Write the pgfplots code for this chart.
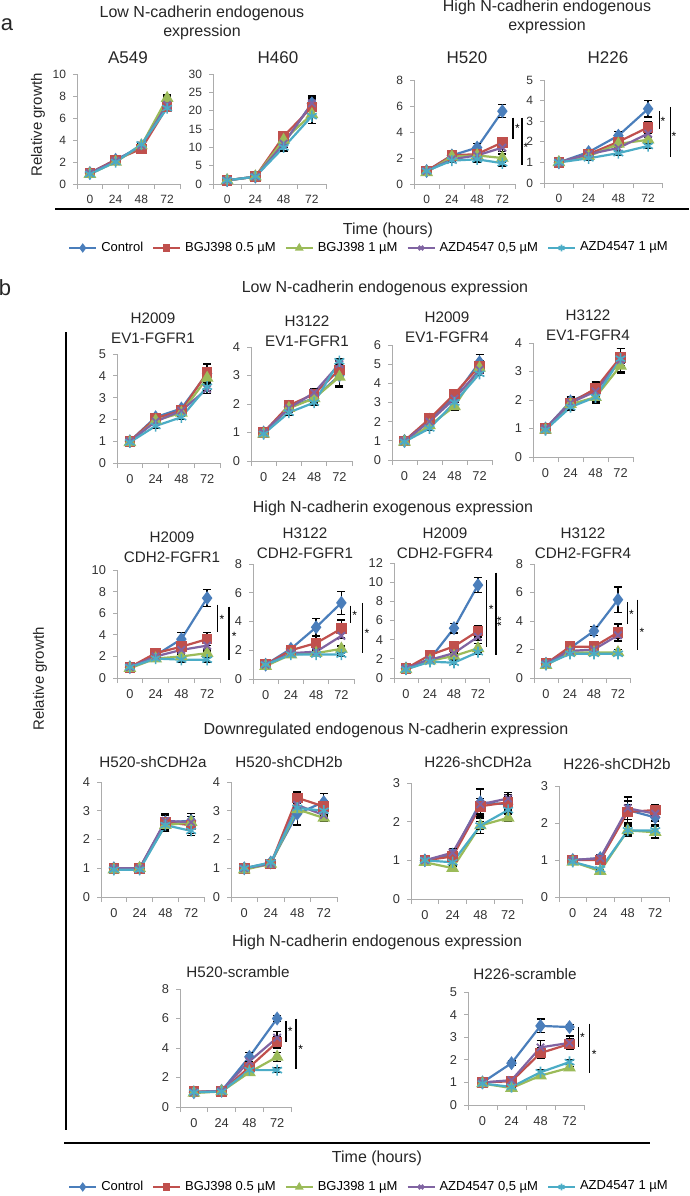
\documentclass[border=0pt]{standalone}
\usepackage{fontspec}
\setmainfont{Liberation Sans}
\usepackage{pgfplots}
\pgfplotsset{compat=1.18}

\definecolor{cC}{HTML}{4A7EBB}
\definecolor{cR}{HTML}{C0504D}
\definecolor{cG}{HTML}{9BBB59}
\definecolor{cP}{HTML}{8064A2}
\definecolor{cA}{HTML}{4BACC6}

\newcommand\tA{\fontsize{8}{9.5}\selectfont}
\newcommand\tC{\fontsize{8.5}{10}\selectfont}
\newcommand\tB{\fontsize{7.6}{10}\selectfont}
\newcommand\tR{\fontsize{7.5}{9}\selectfont}

\pgfplotsset{
  sC/.style={cC, line width=1.1pt, mark=diamond*, mark size=2.6pt, mark options={solid}},
  sR/.style={cR, line width=1.1pt, mark=square*, mark size=2.1pt, mark options={solid}},
  sG/.style={cG, line width=1.1pt, mark=triangle*, mark size=2.6pt, mark options={solid}},
  sP/.style={cP, line width=1.1pt, mark=x, mark size=2.6pt, mark options={solid,line width=0.9pt}},
  sA/.style={cA, line width=1.1pt, mark=asterisk, mark size=2.8pt, mark options={solid,line width=0.8pt}},
  eb/.style={/pgfplots/error bars/y dir=both, /pgfplots/error bars/y explicit,
    /pgfplots/error bars/error bar style={black,line width=0.7pt},
    /pgfplots/error bars/error mark options={rotate=90,mark size=2pt,black,line width=0.7pt}},
  cell/.style={scale only axis, anchor=south west, clip=false,
    axis x line*=bottom, axis y line*=left,
    axis line style={-, draw=gray!65, line width=0.5pt},
    xmin=-0.5, xmax=3.5, ymin=0,
    xtick={0,1,2,3}, xticklabels={0,24,48,72},
    minor xtick={-0.5,0.5,1.5,2.5,3.5},
    tick align=outside, major tick length=2pt, minor tick length=2.5pt,
    every tick/.style={draw=gray!65, line width=0.5pt},
    major x tick style={draw=none},
    tick label style={font=\fontsize{6}{7}\selectfont, text=black!80},
    /pgf/number format/assume math mode=true},
  cellb/.style={cell, tick label style={font=\fontsize{6.4}{7}\selectfont}},
  leg/.style={hide axis, scale only axis, width=5pt, height=5pt, anchor=center,
    xmin=0, xmax=1, ymin=0, ymax=1, legend columns=5,
    legend style={at={(0.5,0.5)}, anchor=center, draw=none, fill=none,
      font=\fontsize{6.5}{7.5}\selectfont,
      /tikz/every even column/.append style={column sep=2.5pt}},
    legend image code/.code={\draw[mark repeat=2,mark phase=2,##1,line width=1pt,every mark/.append style={scale=0.6}] plot coordinates {(0pt,0pt) (6.75pt,0pt) (13.5pt,0pt)};}},
}

% five series of one panel: Control, BGJ398 0.5, BGJ398 1, AZD4547 0.5, AZD4547 1
\newcommand\five[5]{%
  \addplot[sC,eb] coordinates {#1};
  \addplot[sR,eb] coordinates {#2};
  \addplot[sG,eb] coordinates {#3};
  \addplot[sP,eb] coordinates {#4};
  \addplot[sA,eb] coordinates {#5};}
% significance bar and star
\newcommand\sig[6]{\draw[black,line width=0.6pt] (axis cs:#1,#2) -- (axis cs:#1,#3);
  \node[inner sep=0pt,font=\fontsize{6}{6}\selectfont] at (axis cs:#4,#5) {#6};}

\begin{document}
\begin{tikzpicture}
\path[use as bounding box] (0,0) rectangle (345pt,-598pt);

% ---------------- panel a ----------------
\begin{axis}[cell, at={(38.5pt,-92pt)}, width=51.5pt, height=55pt, ymax=10, ytick distance=2]
\five{(0,1)+-(0,.1) (1,2.2)+-(0,.15) (2,3.4)+-(0,.2) (3,7.6)+-(0,.3)}
{(0,1)+-(0,.1) (1,2.2)+-(0,.15) (2,3.2)+-(0,.2) (3,7.0)+-(0,.3)}
{(0,0.9)+-(0,.1) (1,2.0)+-(0,.1) (2,3.5)+-(0,.2) (3,7.8)+-(0,.3)}
{(0,1)+-(0,.1) (1,2.1)+-(0,.1) (2,3.5)+-(0,.2) (3,7.2)+-(0,.3)}
{(0,0.9)+-(0,.1) (1,2.0)+-(0,.1) (2,3.6)+-(0,.2) (3,6.9)+-(0,.3)}
\end{axis}

\begin{axis}[cell, at={(106.5pt,-92pt)}, width=56.5pt, height=55pt, ymax=30, ytick distance=5]
\five{(0,1)+-(0,.3) (1,2)+-(0,.3) (2,11)+-(0,1) (3,22)+-(0,1.5)}
{(0,1)+-(0,.3) (1,2)+-(0,.3) (2,13)+-(0,1) (3,21)+-(0,2)}
{(0,1)+-(0,.3) (1,2)+-(0,.3) (2,12)+-(0,1) (3,19)+-(0,2.5)}
{(0,1)+-(0,.3) (1,2)+-(0,.3) (2,11)+-(0,1) (3,22)+-(0,2)}
{(0,1)+-(0,.3) (1,2)+-(0,.3) (2,10)+-(0,1) (3,18.5)+-(0,2)}
\end{axis}

\begin{axis}[cell, at={(207pt,-92pt)}, width=50.5pt, height=52pt, ymax=8, ytick distance=2]
\five{(0,1)+-(0,.1) (1,2.2)+-(0,.15) (2,2.8)+-(0,.3) (3,5.6)+-(0,.5)}
{(0,1)+-(0,.1) (1,2.2)+-(0,.1) (2,2.3)+-(0,.2) (3,3.2)+-(0,.4)}
{(0,0.9)+-(0,.1) (1,2.1)+-(0,.1) (2,2.2)+-(0,.2) (3,2.0)+-(0,.3)}
{(0,1)+-(0,.1) (1,1.9)+-(0,.1) (2,2.2)+-(0,.2) (3,2.8)+-(0,.3)}
{(0,1)+-(0,.1) (1,1.8)+-(0,.1) (2,1.9)+-(0,.2) (3,1.6)+-(0,.2)}
\sig{3.42}{5.1}{3.5}{3.6}{4.3}{*}
\sig{3.78}{5.1}{1.5}{3.93}{2.8}{*}
\end{axis}

\begin{axis}[cell, at={(272pt,-91.5pt)}, width=59.5pt, height=51.5pt, ymax=5, ytick distance=1]
\five{(0,1)+-(0,.05) (1,1.5)+-(0,.1) (2,2.3)+-(0,.2) (3,3.6)+-(0,.4)}
{(0,1)+-(0,.05) (1,1.4)+-(0,.1) (2,2.0)+-(0,.2) (3,2.7)+-(0,.3)}
{(0,1)+-(0,.05) (1,1.3)+-(0,.1) (2,1.9)+-(0,.15) (3,2.1)+-(0,.15)}
{(0,1)+-(0,.05) (1,1.4)+-(0,.1) (2,1.7)+-(0,.15) (3,2.4)+-(0,.2)}
{(0,1)+-(0,.05) (1,1.2)+-(0,.1) (2,1.45)+-(0,.1) (3,1.8)+-(0,.1)}
\sig{3.37}{3.5}{2.6}{3.5}{3.0}{*}
\sig{3.74}{3.7}{1.26}{3.87}{2.25}{*}
\end{axis}

\begin{axis}[leg, at={(185pt,-124pt)}]
\addlegendimage{sC}\addlegendentry{Control}
\addlegendimage{sR}\addlegendentry{BGJ398 0.5 µM}
\addlegendimage{sG}\addlegendentry{BGJ398 1 µM}
\addlegendimage{sP}\addlegendentry{AZD4547 0,5 µM}
\addlegendimage{sA}\addlegendentry{AZD4547 1 µM}
\end{axis}

% ---------------- panel b, row 1 ----------------
\begin{axis}[cellb, at={(58.5pt,-231.5pt)}, width=51.5pt, height=54.5pt, ymax=5, ytick distance=1]
\five{(0,1)+-(0,.05) (1,2.1)+-(0,.1) (2,2.5)+-(0,.15) (3,4.1)+-(0,.45)}
{(0,1)+-(0,.05) (1,2.05)+-(0,.1) (2,2.4)+-(0,.15) (3,4.15)+-(0,.4)}
{(0,0.95)+-(0,.05) (1,1.95)+-(0,.1) (2,2.3)+-(0,.15) (3,3.9)+-(0,.3)}
{(0,1)+-(0,.05) (1,1.9)+-(0,.1) (2,2.4)+-(0,.15) (3,3.4)+-(0,.2)}
{(0,0.95)+-(0,.05) (1,1.7)+-(0,.1) (2,2.1)+-(0,.1) (3,3.5)+-(0,.2)}
\end{axis}

\begin{axis}[cellb, at={(125.5pt,-230.5pt)}, width=50.5pt, height=57pt, ymax=4, ytick distance=1]
\five{(0,1)+-(0,.05) (1,1.9)+-(0,.2) (2,2.2)+-(0,.2) (3,3.0)+-(0,.4)}
{(0,1)+-(0,.05) (1,1.95)+-(0,.1) (2,2.35)+-(0,.2) (3,3.2)+-(0,.3)}
{(0,0.95)+-(0,.05) (1,1.85)+-(0,.1) (2,2.2)+-(0,.15) (3,2.95)+-(0,.3)}
{(0,1)+-(0,.05) (1,1.85)+-(0,.1) (2,2.4)+-(0,.15) (3,3.4)+-(0,.15)}
{(0,0.95)+-(0,.05) (1,1.7)+-(0,.1) (2,2.05)+-(0,.1) (3,3.5)+-(0,.1)}
\end{axis}

\begin{axis}[cellb, at={(196pt,-230pt)}, width=50pt, height=57.5pt, ymax=6, ytick distance=1]
\five{(0,1)+-(0,.05) (1,2.1)+-(0,.1) (2,3.3)+-(0,.3) (3,5.1)+-(0,.4)}
{(0,1)+-(0,.05) (1,2.15)+-(0,.1) (2,3.45)+-(0,.2) (3,4.9)+-(0,.3)}
{(0,0.95)+-(0,.05) (1,1.8)+-(0,.1) (2,2.8)+-(0,.2) (3,4.8)+-(0,.3)}
{(0,1)+-(0,.05) (1,2.0)+-(0,.1) (2,3.2)+-(0,.2) (3,4.7)+-(0,.2)}
{(0,0.95)+-(0,.05) (1,1.65)+-(0,.1) (2,3.0)+-(0,.1) (3,4.5)+-(0,.1)}
\end{axis}

\begin{axis}[cellb, at={(266.5pt,-228.5pt)}, width=50pt, height=57pt, ymax=4, ytick distance=1]
\five{(0,1)+-(0,.05) (1,1.95)+-(0,.15) (2,2.35)+-(0,.3) (3,3.4)+-(0,.4)}
{(0,1)+-(0,.05) (1,1.9)+-(0,.1) (2,2.4)+-(0,.2) (3,3.5)+-(0,.3)}
{(0,0.95)+-(0,.05) (1,1.85)+-(0,.1) (2,2.1)+-(0,.2) (3,3.2)+-(0,.25)}
{(0,1)+-(0,.05) (1,1.9)+-(0,.1) (2,2.3)+-(0,.2) (3,3.4)+-(0,.2)}
{(0,0.95)+-(0,.05) (1,1.75)+-(0,.1) (2,2.1)+-(0,.15) (3,3.45)+-(0,.15)}
\end{axis}

% ---------------- panel b, row 2 ----------------
\begin{axis}[cellb, at={(58.5pt,-339pt)}, width=51.5pt, height=54pt, ymax=10, ytick distance=2]
\five{(0,1)+-(0,.1) (1,2.1)+-(0,.2) (2,3.6)+-(0,.6) (3,7.4)+-(0,.8)}
{(0,1)+-(0,.1) (1,2.3)+-(0,.2) (2,2.9)+-(0,.3) (3,3.6)+-(0,.6)}
{(0,0.9)+-(0,.1) (1,1.8)+-(0,.2) (2,2.0)+-(0,.2) (3,2.3)+-(0,.2)}
{(0,1)+-(0,.1) (1,2.0)+-(0,.2) (2,2.6)+-(0,.3) (3,3.0)+-(0,.3)}
{(0,1)+-(0,.1) (1,1.8)+-(0,.2) (2,1.7)+-(0,.2) (3,1.7)+-(0,.2)}
\sig{3.4}{6.8}{4.3}{3.58}{5.4}{*}
\sig{3.85}{6.6}{1.7}{4.05}{3.9}{*}
\end{axis}

\begin{axis}[cellb, at={(126.5pt,-339.5pt)}, width=50.5pt, height=57.5pt, ymax=8, ytick distance=2]
\five{(0,1)+-(0,.1) (1,2.1)+-(0,.2) (2,3.6)+-(0,.6) (3,5.3)+-(0,.8)}
{(0,1)+-(0,.1) (1,2.0)+-(0,.2) (2,2.5)+-(0,.5) (3,3.5)+-(0,.6)}
{(0,0.9)+-(0,.1) (1,1.7)+-(0,.2) (2,1.8)+-(0,.2) (3,2.1)+-(0,.2)}
{(0,1)+-(0,.1) (1,1.8)+-(0,.2) (2,1.9)+-(0,.2) (3,3.0)+-(0,.2)}
{(0,1)+-(0,.1) (1,1.7)+-(0,.1) (2,1.7)+-(0,.1) (3,1.7)+-(0,.1)}
\sig{3.35}{5.1}{3.9}{3.53}{4.4}{*}
\sig{3.83}{5.3}{1.8}{4.01}{3.2}{*}
\end{axis}

\begin{axis}[cellb, at={(197pt,-339pt)}, width=48pt, height=57.5pt, ymax=12, ytick distance=2]
\five{(0,1)+-(0,.1) (1,2.0)+-(0,.2) (2,5.2)+-(0,.5) (3,9.7)+-(0,.8)}
{(0,1)+-(0,.1) (1,2.4)+-(0,.2) (2,3.3)+-(0,.3) (3,4.9)+-(0,.6)}
{(0,0.9)+-(0,.1) (1,1.8)+-(0,.2) (2,2.3)+-(0,.3) (3,3.1)+-(0,.5)}
{(0,1)+-(0,.1) (1,1.9)+-(0,.2) (2,2.6)+-(0,.3) (3,4.3)+-(0,.4)}
{(0,0.9)+-(0,.1) (1,1.7)+-(0,.2) (2,1.6)+-(0,.2) (3,2.7)+-(0,.2)}
\sig{3.35}{10.2}{3.2}{3.55}{7.2}{*}
\sig{3.75}{11}{2.4}{3.97}{5.9}{\rotatebox{90}{**}}
\end{axis}

\begin{axis}[cellb, at={(267pt,-339pt)}, width=48pt, height=57pt, ymax=8, ytick distance=2]
\five{(0,1)+-(0,.1) (1,2.1)+-(0,.2) (2,3.3)+-(0,.3) (3,5.5)+-(0,.9)}
{(0,1)+-(0,.1) (1,2.2)+-(0,.15) (2,2.2)+-(0,.3) (3,3.2)+-(0,.6)}
{(0,0.9)+-(0,.1) (1,1.8)+-(0,.2) (2,1.8)+-(0,.2) (3,1.8)+-(0,.2)}
{(0,1)+-(0,.1) (1,1.9)+-(0,.2) (2,2.0)+-(0,.2) (3,3.0)+-(0,.2)}
{(0,0.95)+-(0,.1) (1,1.7)+-(0,.1) (2,1.7)+-(0,.1) (3,1.7)+-(0,.1)}
\sig{3.38}{5.3}{3.8}{3.56}{4.5}{*}
\sig{3.82}{5.5}{2.0}{4.0}{3.2}{*}
\end{axis}

% ---------------- panel b, row 3 ----------------
\begin{axis}[cellb, at={(50.5pt,-448.5pt)}, width=51.5pt, height=57.5pt, ymax=4, ytick distance=1]
\five{(0,1)+-(0,.05) (1,1.0)+-(0,.05) (2,2.6)+-(0,.3) (3,2.65)+-(0,.25)}
{(0,1)+-(0,.05) (1,1.0)+-(0,.05) (2,2.6)+-(0,.3) (3,2.5)+-(0,.3)}
{(0,0.95)+-(0,.05) (1,1.0)+-(0,.05) (2,2.5)+-(0,.2) (3,2.6)+-(0,.2)}
{(0,1)+-(0,.05) (1,1.0)+-(0,.05) (2,2.65)+-(0,.2) (3,2.6)+-(0,.2)}
{(0,0.95)+-(0,.05) (1,0.95)+-(0,.05) (2,2.5)+-(0,.15) (3,2.3)+-(0,.15)}
\end{axis}

\begin{axis}[cellb, at={(115.5pt,-448.5pt)}, width=53pt, height=57.5pt, ymax=4, ytick distance=1]
\five{(0,1)+-(0,.05) (1,1.2)+-(0,.05) (2,2.9)+-(0,.4) (3,3.3)+-(0,.3)}
{(0,1)+-(0,.05) (1,1.15)+-(0,.05) (2,3.45)+-(0,.2) (3,3.15)+-(0,.2)}
{(0,0.95)+-(0,.05) (1,1.15)+-(0,.05) (2,3.05)+-(0,.1) (3,2.75)+-(0,.1)}
{(0,1)+-(0,.05) (1,1.15)+-(0,.05) (2,3.2)+-(0,.1) (3,2.85)+-(0,.1)}
{(0,1)+-(0,.05) (1,1.2)+-(0,.05) (2,3.1)+-(0,.2) (3,3.0)+-(0,.2)}
\end{axis}

\begin{axis}[cellb, at={(205.5pt,-449.5pt)}, width=55.5pt, height=58pt, ymax=3, ytick distance=1]
\five{(0,1)+-(0,.05) (1,1.15)+-(0,.1) (2,2.5)+-(0,.35) (3,2.45)+-(0,.2)}
{(0,1)+-(0,.05) (1,1.1)+-(0,.1) (2,2.4)+-(0,.2) (3,2.5)+-(0,.2)}
{(0,0.95)+-(0,.05) (1,0.8)+-(0,.05) (2,1.9)+-(0,.2) (3,2.1)+-(0,.1)}
{(0,1)+-(0,.05) (1,1.2)+-(0,.1) (2,2.45)+-(0,.15) (3,2.6)+-(0,.15)}
{(0,1)+-(0,.05) (1,0.95)+-(0,.05) (2,1.9)+-(0,.1) (3,2.3)+-(0,.1)}
\end{axis}

\begin{axis}[cellb, at={(279.5pt,-448.5pt)}, width=55pt, height=55.5pt, ymax=3, ytick distance=1]
\five{(0,1)+-(0,.05) (1,1.05)+-(0,.1) (2,2.35)+-(0,.35) (3,2.15)+-(0,.2)}
{(0,1)+-(0,.05) (1,1.0)+-(0,.1) (2,2.3)+-(0,.2) (3,2.35)+-(0,.15)}
{(0,0.95)+-(0,.05) (1,0.7)+-(0,.05) (2,1.8)+-(0,.15) (3,1.75)+-(0,.15)}
{(0,1)+-(0,.05) (1,1.05)+-(0,.1) (2,2.4)+-(0,.2) (3,2.25)+-(0,.2)}
{(0,0.95)+-(0,.05) (1,0.75)+-(0,.05) (2,1.8)+-(0,.1) (3,1.8)+-(0,.1)}
\end{axis}

% ---------------- panel b, row 4 ----------------
\begin{axis}[cellb, at={(90pt,-553.5pt)}, width=55.5pt, height=59pt, ymax=8, ytick distance=2]
\five{(0,1)+-(0,.05) (1,1.1)+-(0,.05) (2,3.4)+-(0,.3) (3,6.0)+-(0,.2)}
{(0,1.05)+-(0,.1) (1,1.05)+-(0,.1) (2,2.7)+-(0,.3) (3,4.4)+-(0,.4)}
{(0,0.95)+-(0,.1) (1,1.05)+-(0,.1) (2,2.35)+-(0,.2) (3,3.4)+-(0,.3)}
{(0,1)+-(0,.1) (1,1.1)+-(0,.1) (2,3.1)+-(0,.3) (3,4.7)+-(0,.4)}
{(0,1)+-(0,.1) (1,1.05)+-(0,.1) (2,2.5)+-(0,.15) (3,2.5)+-(0,.15)}
\sig{3.32}{5.8}{4.4}{3.47}{5.1}{*}
\sig{3.68}{6.0}{2.6}{3.85}{3.9}{*}
\end{axis}

\begin{axis}[cellb, at={(234pt,-552.5pt)}, width=58pt, height=56.5pt, ymax=5, ytick distance=1]
\five{(0,1)+-(0,.05) (1,1.85)+-(0,.1) (2,3.5)+-(0,.3) (3,3.45)+-(0,.1)}
{(0,1)+-(0,.05) (1,1.05)+-(0,.05) (2,2.3)+-(0,.25) (3,2.7)+-(0,.25)}
{(0,0.95)+-(0,.05) (1,0.75)+-(0,.05) (2,1.3)+-(0,.05) (3,1.65)+-(0,.05)}
{(0,1)+-(0,.05) (1,1.1)+-(0,.1) (2,2.55)+-(0,.3) (3,2.75)+-(0,.3)}
{(0,0.95)+-(0,.05) (1,0.8)+-(0,.05) (2,1.45)+-(0,.1) (3,1.9)+-(0,.1)}
\sig{3.31}{3.45}{2.55}{3.45}{3.0}{*}
\sig{3.69}{3.6}{1.4}{3.85}{2.25}{*}
\end{axis}

\begin{axis}[leg, at={(185pt,-593.5pt)}]
\addlegendimage{sC}\addlegendentry{Control}
\addlegendimage{sR}\addlegendentry{BGJ398 0.5 µM}
\addlegendimage{sG}\addlegendentry{BGJ398 1 µM}
\addlegendimage{sP}\addlegendentry{AZD4547 0,5 µM}
\addlegendimage{sA}\addlegendentry{AZD4547 1 µM}
\end{axis}

% ---------------- texts and rules (pixel grid) ----------------
\begin{scope}[x=0.5pt, y=-0.5pt, every node/.style={text=black!85, inner sep=0pt}]
\node[font=\fontsize{11}{12}\selectfont] at (7,25) {a};
\node[align=center, font=\tA] at (202,23) {Low N-cadherin endogenous\\expression};
\node[align=center, font=\tA] at (547,17) {High N-cadherin endogenous\\expression};
\node[font=\tC] at (128,58) {A549};
\node[font=\tC] at (278,58) {H460};
\node[font=\tC] at (467,58) {H520};
\node[font=\tC] at (608,58) {H226};
\node[rotate=90, font=\tR] at (38,125) {Relative growth};
\draw[line width=1.1pt] (55,209) -- (689,209);
\node[font=\tA] at (388,230) {Time (hours)};

\node[font=\fontsize{11}{12}\selectfont] at (5,288) {b};
\node[font=\tA] at (385,288) {Low N-cadherin endogenous expression};
\node[align=center, font=\tB] at (153,328) {H2009\\EV1-FGFR1};
\node[align=center, font=\tB] at (307,331) {H3122\\EV1-FGFR1};
\node[align=center, font=\tB] at (447,327) {H2009\\EV1-FGFR4};
\node[align=center, font=\tB] at (588,325) {H3122\\EV1-FGFR4};

\node[font=\tA] at (393,508) {High N-cadherin exogenous expression};
\node[align=center, font=\tB] at (172,547) {H2009\\CDH2-FGFR1};
\node[align=center, font=\tB] at (305,543) {H3122\\CDH2-FGFR1};
\node[align=center, font=\tB] at (445,543) {H2009\\CDH2-FGFR4};
\node[align=center, font=\tB] at (583,543) {H3122\\CDH2-FGFR4};

\node[rotate=90, font=\tR] at (40,679) {Relative growth};
\draw[line width=0.9pt] (66,332) -- (66,1130);

\node[font=\tA] at (386,730) {Downregulated endogenous N-cadherin expression};
\node[font=\tB] at (153,762) {H520-shCDH2a};
\node[font=\tB] at (289,762) {H520-shCDH2b};
\node[font=\tB] at (478,762) {H226-shCDH2a};
\node[font=\tB] at (617,764) {H226-shCDH2b};

\node[font=\tA] at (377,942) {High N-cadherin endogenous expression};
\node[font=\tB] at (238,972) {H520-scramble};
\node[font=\tB] at (525,974) {H226-scramble};

\draw[line width=1.1pt] (64,1143) -- (650,1143);
\node[font=\tA] at (377,1158) {Time (hours)};
\end{scope}
\end{tikzpicture}
\end{document}
